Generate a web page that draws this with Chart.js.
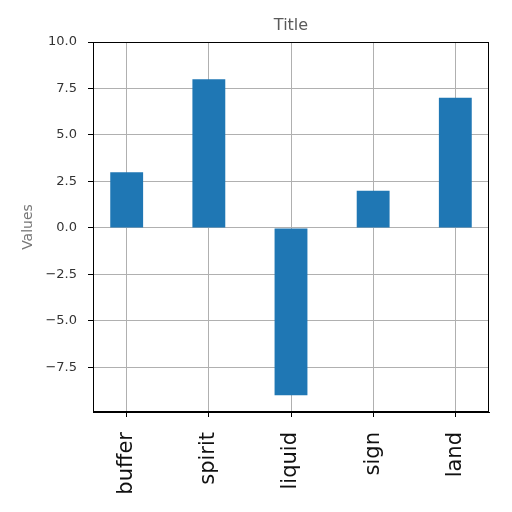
<!DOCTYPE html>
<html><head><meta charset="utf-8">
<script src="https://cdn.jsdelivr.net/npm/chart.js@4"></script>
<style>html,body{margin:0;padding:0;background:#fff}#wrap{width:512px;height:512px}</style>
</head><body><div id="wrap"><canvas id="c" width="512" height="512"></canvas></div>
<script>
const categories = ["buffer", "spirit", "liquid", "sign", "land"];
const values = [3, 8, -9, 2, 7];
const yTicks = [10, 7.5, 5, 2.5, 0, -2.5, -5, -7.5];
const yMin = -9.9, yMax = 10;
const chartTitle = "Title";
const yTitle = "Values";

const frame = {
  id: 'frame',
  afterDraw(chart) {
    const {ctx, chartArea: a} = chart;
    ctx.save();
    ctx.strokeStyle = '#000';
    ctx.lineWidth = 1;
    ctx.strokeRect(a.left + 0.5, a.top + 0.5, a.right - a.left - 1, a.bottom - a.top - 1);
    ctx.fillStyle = '#5a5a5a';
    ctx.font = '16px "DejaVu Sans"';
    ctx.textAlign = 'center';
    ctx.textBaseline = 'middle';
    ctx.fillText(chartTitle, (a.left + a.right) / 2, a.top - 16);
    ctx.restore();
  }
};

new Chart(document.getElementById('c'), {
  type: 'bar',
  data: {
    datasets: [{
      data: categories.map((c, i) => ({x: i, y: values[i]})),
      backgroundColor: '#1f77b4',
      borderWidth: 0,
      categoryPercentage: 1,
      barPercentage: 0.4
    }]
  },
  plugins: [frame],
  options: {
    responsive: false,
    animation: false,
    layout: {padding: {left: 0, right: 23, top: 42, bottom: 0}},
    plugins: {
      legend: {display: false},
      tooltip: {enabled: false},
      title: {display: false}
    },
    scales: {
      x: {
        type: 'linear', min: -0.41, max: 4.41, z: 1, offset: false,
        afterBuildTicks: s => { s.ticks = categories.map((c, i) => ({value: i})); },
        afterFit: s => { s.height = 100; },
        ticks: {
          callback: v => categories[v] ?? '',
          minRotation: 90, maxRotation: 90, autoSkip: false,
          color: '#111', padding: 15,
          font: {family: 'DejaVu Sans', size: 21}
        },
        grid: {color: '#b0b0b0', tickColor: '#000', tickLength: 5, lineWidth: 1, offset: false},
        border: {color: '#000'}
      },
      y: {
        min: yMin, max: yMax, z: 1,
        afterBuildTicks: s => { s.ticks = yTicks.map(v => ({value: v})); },
        afterFit: s => { s.width = 93; },
        ticks: {
          callback: v => (v < 0 ? '\u2212' + Math.abs(v).toFixed(1) : v.toFixed(1)),
          color: '#333', padding: 11,
          font: {family: 'DejaVu Sans', size: 13}
        },
        title: {
          display: true, text: yTitle, color: '#777',
          font: {family: 'DejaVu Sans', size: 14}, padding: {top: 20, bottom: 0}
        },
        grid: {color: '#b0b0b0', tickColor: '#000', tickLength: 5, lineWidth: 1},
        border: {color: '#000'}
      }
    }
  }
});
</script></body></html>
